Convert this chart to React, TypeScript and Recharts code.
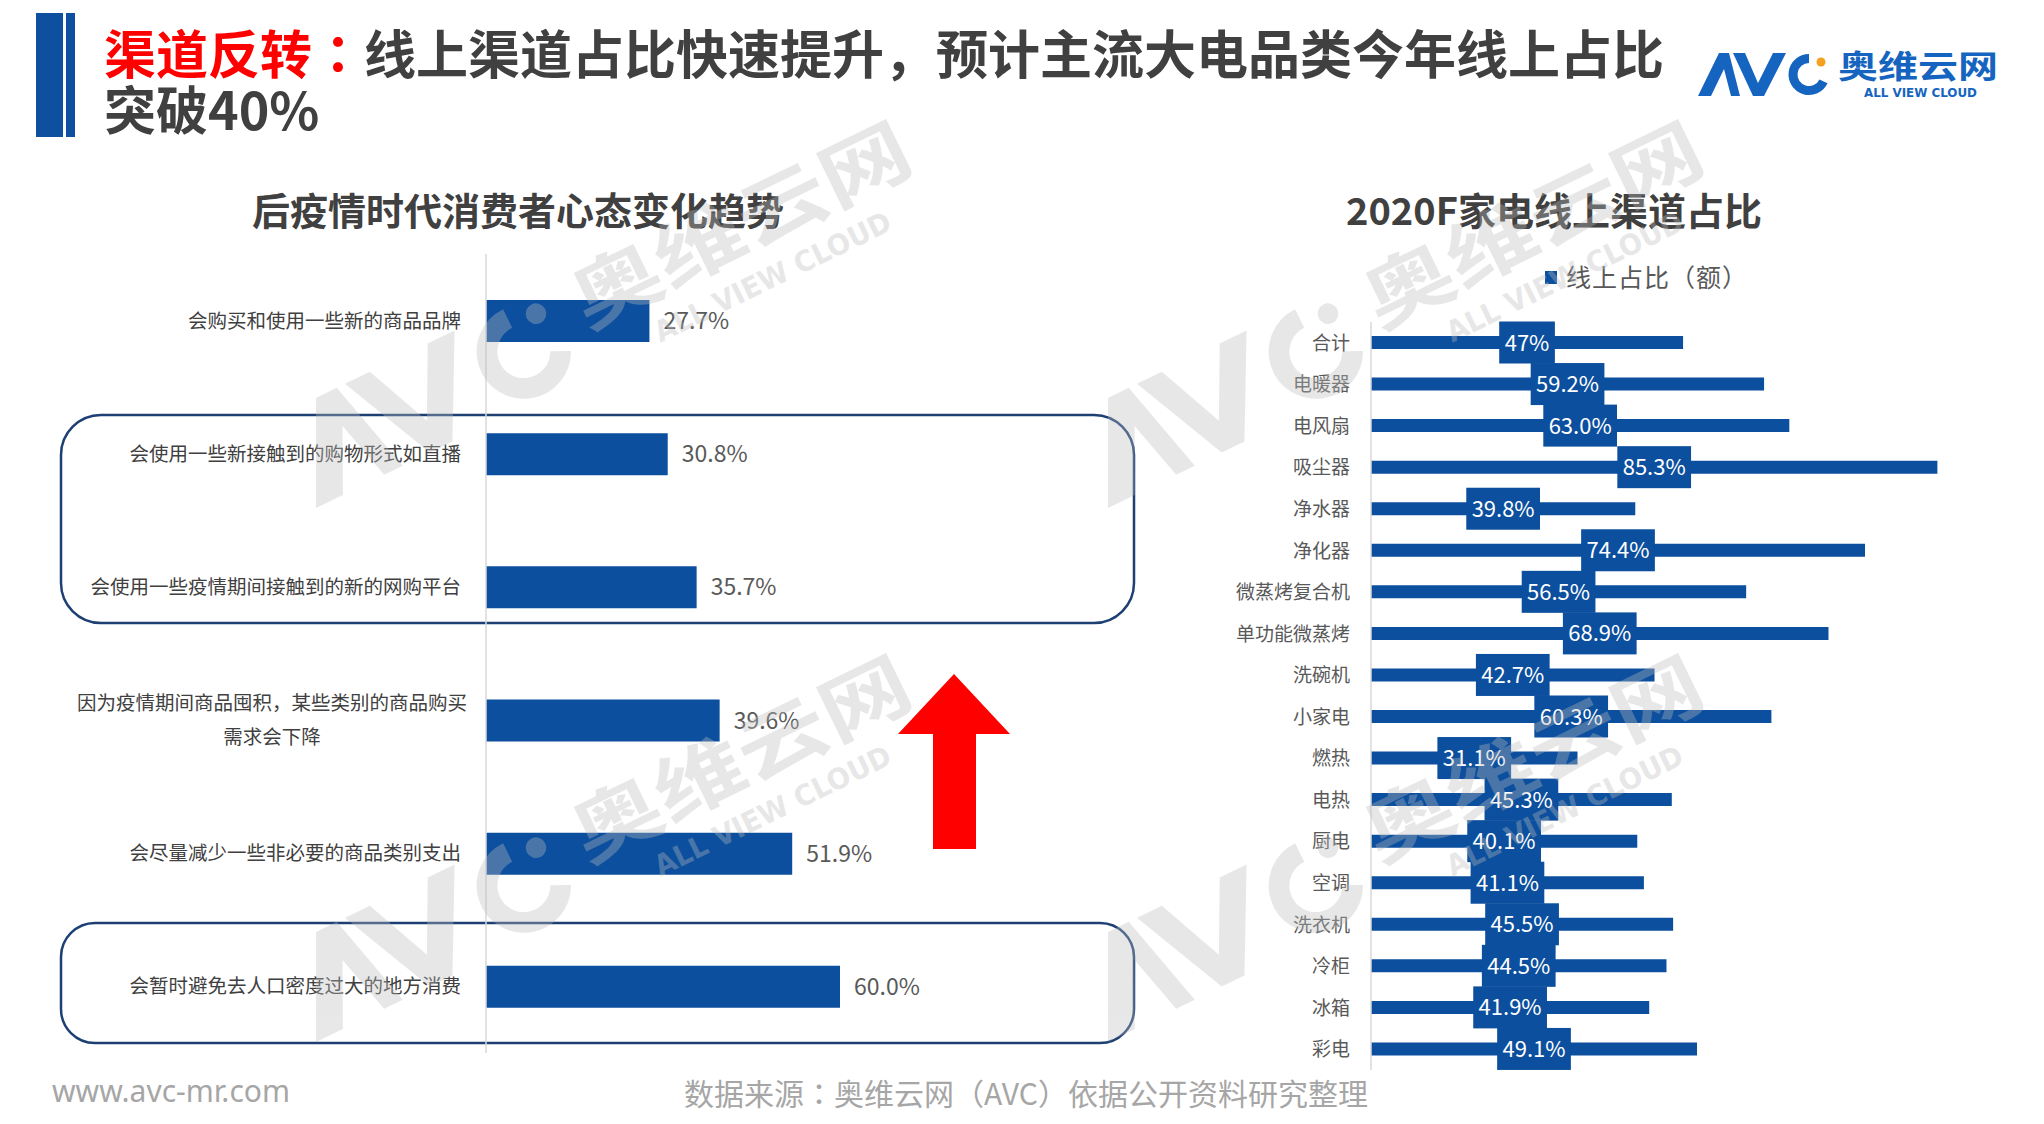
import React from 'react';
import { BarChart, Bar, XAxis, YAxis, LabelList } from 'recharts';

const FONT = '"Noto Sans CJK SC", "Noto Sans", sans-serif';
const FONT_JP = '"Noto Sans CJK JP", "Noto Sans CJK SC", sans-serif';
const BLUE = '#0b4f9e';
const NAVY = '#1d3f74';

// left: post-epidemic consumer mindset
const mindsetItems = [
  '会购买和使用一些新的商品品牌',
  '会使用一些新接触到的购物形式如直播',
  '会使用一些疫情期间接触到的新的网购平台',
  '因为疫情期间商品囤积，某些类别的商品购买\n需求会下降',
  '会尽量减少一些非必要的商品类别支出',
  '会暂时避免去人口密度过大的地方消费',
];
const mindsetShares = [27.7, 30.8, 35.7, 39.6, 51.9, 60.0];

// right: 2020F online channel share by category
const applianceNames = [
  '合计', '电暖器', '电风扇', '吸尘器', '净水器', '净化器', '微蒸烤复合机', '单功能微蒸烤', '洗碗机',
  '小家电', '燃热', '电热', '厨电', '空调', '洗衣机', '冷柜', '冰箱', '彩电',
];
const applianceShares = [47, 59.2, 63.0, 85.3, 39.8, 74.4, 56.5, 68.9, 42.7, 60.3, 31.1, 45.3, 40.1, 41.1, 45.5, 44.5, 41.9, 49.1];
const applianceLabels = [
  '47%', '59.2%', '63.0%', '85.3%', '39.8%', '74.4%', '56.5%', '68.9%', '42.7%',
  '60.3%', '31.1%', '45.3%', '40.1%', '41.1%', '45.5%', '44.5%', '41.9%', '49.1%',
];

const mindsetData = mindsetItems.map((item, i) => ({ item, share: mindsetShares[i] }));
const applianceData = applianceNames.map((name, i) => ({
  name,
  share: applianceShares[i],
  label: applianceLabels[i],
}));

// rough width of a label in em
function textEm(s: string) {
  let w = 0;
  for (const ch of s) {
    if (ch === '%') w += 0.84;
    else if (ch === '.') w += 0.27;
    else w += 0.55;
  }
  return w;
}

function MindsetTick(props: any) {
  const { x, y, payload } = props;
  const fs = 19.5;
  const lines = String(payload.value).split('\n');
  if (lines.length === 1) {
    return (
      <text x={x} y={y} dy={7} textAnchor="end" fill="#404040" fontSize={fs} fontFamily={FONT}>
        {lines[0]}
      </text>
    );
  }
  const widest = Math.max(...lines.map((l) => l.length)) * fs;
  const cx = x + 6 - widest / 2;
  return (
    <text textAnchor="middle" fill="#404040" fontSize={fs} fontFamily={FONT}>
      {lines.map((l, i) => (
        <tspan key={i} x={cx} y={y + (i - (lines.length - 1) / 2) * 34} dy={7}>
          {l}
        </tspan>
      ))}
    </text>
  );
}

function ApplianceTick(props: any) {
  const { x, y, payload } = props;
  return (
    <text x={x} y={y} dy={7} textAnchor="end" fill="#595959" fontSize={19} fontFamily={FONT}>
      {payload.value}
    </text>
  );
}

function ShareBadge(props: any) {
  const vb = props.viewBox ?? props;
  const { x, y, width, height } = vb;
  const text = String(props.value);
  const fs = 22;
  const w = textEm(text) * fs + 13;
  const cx = x + width / 2;
  const cy = y + height / 2;
  return (
    <g>
      <rect x={cx - w / 2} y={cy - 21} width={w} height={42} fill={BLUE} />
      <text x={cx} y={cy} dy={8} textAnchor="middle" fill="#fff" fontSize={fs} fontFamily={FONT}>
        {text}
      </text>
    </g>
  );
}

function AvcMark({ fill, dot }: { fill: string; dot: string }) {
  return (
    <g>
      <polygon points="0,0 21,-43 31,-43 42,0 33,0 26,-27 13,0" fill={fill} />
      <polygon points="35,-43 47,-43 60,-13 75,-43 88,-43 66,0 55,0" fill={fill} />
      <path d="M 125.5 -14.7 A 16 16 0 1 1 111 -37.5" stroke={fill} strokeWidth={9} fill="none" />
      <circle cx={123} cy={-34} r={4.5} fill={dot} />
      <text x={140} y={-18} fontSize={32} fontWeight={700} fill={fill} fontFamily={FONT}
        textLength={160} lengthAdjust="spacingAndGlyphs">
        奥维云网
      </text>
      <text x={166} y={1} fontSize={12.5} fontWeight={700} fill={fill} fontFamily='"DejaVu Sans", sans-serif'
        textLength={113} lengthAdjust="spacingAndGlyphs">
        ALL VIEW CLOUD
      </text>
    </g>
  );
}

const abs = (s: React.CSSProperties): React.CSSProperties => ({ position: 'absolute', ...s });

export default function App() {
  const marks = [
    [316, 508], [1108, 508],
    [316, 1042], [1108, 1042],
  ];
  return (
    <div style={abs({ left: 0, top: 0, width: 2044, height: 1124, overflow: 'hidden', background: '#fff', fontFamily: FONT })}>
      {/* header bars */}
      <div style={abs({ left: 36, top: 13, width: 27, height: 124, background: '#0f4f9f' })} />
      <div style={abs({ left: 66, top: 13, width: 9, height: 124, background: '#0f4f9f' })} />
      <div style={abs({ left: 104, top: 25, fontSize: 52, lineHeight: '54px', fontWeight: 700, color: '#404040', whiteSpace: 'nowrap' })}>
        <span style={{ color: '#ff0000' }}>渠道反转</span>
        <span style={{ color: '#ff0000', fontFamily: FONT_JP }}>：</span>
        <span>线上渠道占比快速提升，预计主流大电品类今年线上占比</span>
      </div>
      <div style={abs({ left: 104, top: 81, fontSize: 52, lineHeight: '54px', fontWeight: 700, color: '#404040', whiteSpace: 'nowrap' })}>
        突破40%
      </div>

      {/* sub titles */}
      <div style={abs({ left: 218, width: 600, top: 184, textAlign: 'center', fontSize: 38, lineHeight: '50px', fontWeight: 700, color: '#404040' })}>
        后疫情时代消费者心态变化趋势
      </div>
      <div style={abs({ left: 1254, width: 600, top: 184, textAlign: 'center', fontSize: 38, lineHeight: '50px', fontWeight: 700, color: '#404040' })}>
        2020F家电线上渠道占比
      </div>

      {/* legend */}
      <div style={abs({ left: 1545, top: 271, width: 12, height: 13, background: BLUE })} />
      <div style={abs({ left: 1566, top: 260, fontSize: 25, lineHeight: '32px', color: '#595959', whiteSpace: 'nowrap', letterSpacing: 1 })}>
        线上占比（额）
      </div>

      {/* highlight boxes and arrow */}
      <svg width={2044} height={1124} style={abs({ left: 0, top: 0 })}>
        <rect x={61} y={415} width={1073} height={208} rx={40} ry={40} fill="none" stroke={NAVY} strokeWidth={2.5} />
        <rect x={61} y={923} width={1073} height={120} rx={34} ry={34} fill="none" stroke={NAVY} strokeWidth={2.5} />
        <polygon points="954,674 1010,734 976,734 976,849 933,849 933,734 898,734" fill="#ff0000" />
      </svg>

      <div style={abs({ left: 0, top: 0 })}>
        <BarChart width={1100} height={1124} layout="vertical" data={mindsetData}
          margin={{ top: 254, right: 24, bottom: 71, left: 0 }}>
          <XAxis type="number" domain={[0, 100]} hide />
          <YAxis type="category" dataKey="item" width={486} interval={0} tickLine={false} tickSize={0}
            tickMargin={25} axisLine={{ stroke: '#d9d9d9', strokeWidth: 1.5 }} tick={<MindsetTick />} />
          <Bar dataKey="share" fill={BLUE} barSize={42} isAnimationActive={false}>
            <LabelList dataKey="share" position="right" offset={14} fill="#595959" fontSize={23} fontFamily={FONT}
              formatter={(v: any) => `${Number(v).toFixed(1)}%`} />
          </Bar>
        </BarChart>
      </div>

      <div style={abs({ left: 1180, top: 0 })}>
        <BarChart width={864} height={1124} layout="vertical" data={applianceData}
          margin={{ top: 322, right: 9, bottom: 54, left: 0 }}>
          <XAxis type="number" domain={[0, 100]} hide />
          <YAxis type="category" dataKey="name" width={191} interval={0} tickLine={false} tickSize={0}
            tickMargin={21} axisLine={{ stroke: '#d9d9d9', strokeWidth: 1.5 }} tick={<ApplianceTick />} />
          <Bar dataKey="share" fill={BLUE} barSize={13} isAnimationActive={false}>
            <LabelList dataKey="label" content={<ShareBadge />} />
          </Bar>
        </BarChart>
      </div>

      {/* footer */}
      <div style={abs({ left: 52, top: 1071, fontSize: 30, lineHeight: '40px', color: '#a6a6a6', fontFamily: '"Noto Sans", sans-serif' })}>
        www.avc-mr.com
      </div>
      <div style={abs({ left: 526, width: 1000, top: 1072, textAlign: 'center', fontSize: 30, lineHeight: '40px', color: '#a6a6a6', whiteSpace: 'nowrap' })}>
        数据来源<span style={{ fontFamily: FONT_JP }}>：</span>奥维云网（AVC）依据公开资料研究整理
      </div>

      {/* logo + watermarks */}
      <svg width={2044} height={1124} style={abs({ left: 0, top: 0, pointerEvents: 'none' })}>
        <g transform="translate(1698,96)">
          <AvcMark fill="#1565c0" dot="#f5a020" />
        </g>
        {marks.map(([mx, my], i) => (
          <g key={i} transform={`translate(${mx},${my}) rotate(-26) scale(2.3)`} opacity={0.35}>
            <AvcMark fill="#bdbdbd" dot="#bdbdbd" />
          </g>
        ))}
      </svg>
    </div>
  );
}
